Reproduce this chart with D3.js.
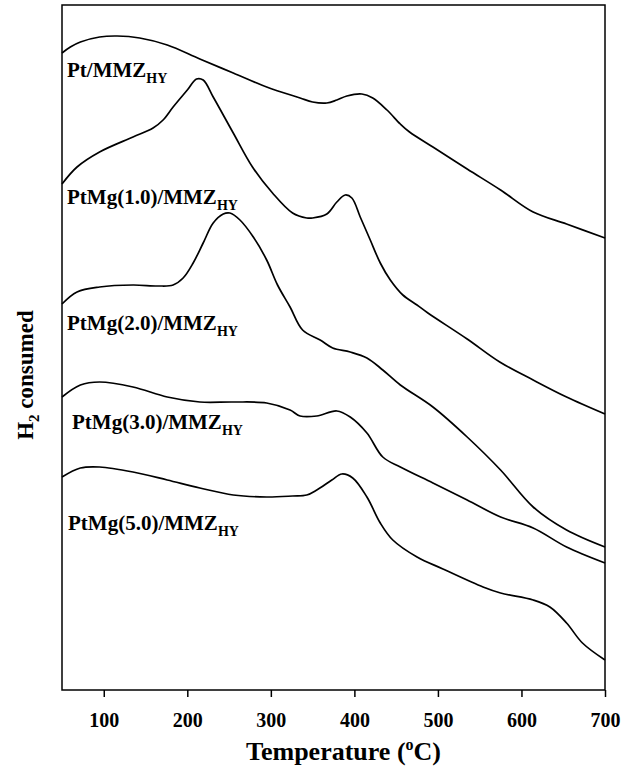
<!DOCTYPE html>
<html>
<head>
<meta charset="utf-8">
<script src="https://cdn.jsdelivr.net/npm/d3@7"></script>
<style>
  body { margin: 0; background: #fff; }
  text { font-family: "Liberation Serif", "Times New Roman", serif; font-weight: bold; fill: #000; }
</style>
</head>
<body>
<svg id="mainSvg" width="634" height="767"></svg>
<script>
// temperature ticks (oC)
let tempTicks = [100, 200, 300, 400, 500, 600, 700]

// H2 consumption signal (arbitrary units), [temperature, signal]
let ptMMZ = [[50,637],[60,643],[72,648],[95,653],[116,654],[143,652],[176,645],[215,631],[255,617],[295,603],[335,592],[350,588],[367,587],[379,590],[391,594],[409,596],[422,592],[439,580],[455,566],[466,558],[494,543],[535,521],[575,500],[614,478],[654,466],[700,452]]
let ptMg10 = [[50,506],[68,523],[95,538],[135,553],[159,562],[171,570],[183,583],[200,600],[211,611],[219,610],[231,593],[255,557],[278,523],[302,497],[326,477],[343,472],[350,472],[367,476],[379,488],[389,495],[397,492],[407,473],[419,450],[431,427],[443,410],[458,395],[475,385],[488,377],[535,351],[574,328],[614,310],[654,293],[700,276]]
let ptMg20 = [[50,386],[68,398],[95,403],[135,405],[165,404],[183,405],[195,412],[207,427],[219,447],[231,467],[243,476],[251,477],[263,470],[279,453],[295,430],[308,405],[323,383],[338,360],[359,350],[374,342],[395,338],[415,332],[434,320],[455,305],[494,283],[535,253],[575,220],[614,183],[654,160],[700,143]]
let ptMg30 = [[50,293],[72,305],[95,308],[135,303],[176,293],[215,288],[255,288],[295,287],[323,280],[335,274],[355,274],[379,279],[395,273],[415,257],[434,233],[455,223],[494,207],[535,190],[575,173],[614,162],[654,143],[700,127]]
let ptMg50 = [[50,213],[72,222],[95,223],[135,218],[176,210],[215,202],[255,195],[295,193],[326,194],[343,195],[355,200],[373,210],[385,216],[398,212],[415,193],[431,167],[446,150],[475,133],[506,121],[554,103],[575,97],[614,90],[634,83],[654,67],[673,47],[700,30]]

let seriesList = [ptMMZ, ptMg10, ptMg20, ptMg30, ptMg50]
let seriesNames = ['Pt/MMZ', 'PtMg(1.0)/MMZ', 'PtMg(2.0)/MMZ', 'PtMg(3.0)/MMZ', 'PtMg(5.0)/MMZ']

let svg = d3.select('#mainSvg')
let plotLeft = 62, plotRight = 605, plotTop = 5, plotBottom = 690

let x = d3.scaleLinear().domain([50, 700]).range([plotLeft, plotRight])
let y = d3.scaleLinear().domain([0, 685]).range([plotBottom, plotTop])

// curves
let line = d3.line()
  .x(d => x(d[0]))
  .y(d => y(d[1]))
  .curve(d3.curveCatmullRom.alpha(0.5))

svg.append('g').selectAll('path')
  .data(seriesList)
  .join('path')
  .attr('d', line)
  .attr('fill', 'none')
  .attr('stroke', '#000')
  .attr('stroke-width', 1.7)

// frame
svg.append('rect')
  .attr('x', plotLeft).attr('y', plotTop)
  .attr('width', plotRight - plotLeft).attr('height', plotBottom - plotTop)
  .attr('fill', 'none').attr('stroke', '#000').attr('stroke-width', 1.5)

// x axis
let xAxis = svg.append('g')
  .attr('transform', `translate(0,${plotBottom})`)
  .call(d3.axisBottom(x).tickValues(tempTicks).tickSize(7).tickSizeOuter(0).tickPadding(16))
xAxis.select('.domain').remove()
xAxis.selectAll('line').attr('stroke-width', 1.5)
xAxis.selectAll('text')
  .style('font-family', '"Liberation Serif", serif')
  .style('font-weight', 'bold')
  .style('font-size', '20px')

// series labels
let labelX = [67, 67, 67, 72, 68]
let labelY = [77, 204, 330, 429, 530]
let labels = svg.append('g').selectAll('text')
  .data(seriesNames)
  .join('text')
  .attr('x', (d, i) => labelX[i])
  .attr('y', (d, i) => labelY[i])
  .style('font-size', '21px')
labels.append('tspan').text(d => d)
labels.append('tspan').attr('dy', 6).style('font-size', '14px').text('HY')

// axis titles
let xt = svg.append('text')
  .attr('x', (plotLeft + plotRight) / 2 + 10)
  .attr('y', 760)
  .attr('text-anchor', 'middle')
  .style('font-size', '26px')
xt.append('tspan').text('Temperature (')
xt.append('tspan').attr('dy', -10).style('font-size', '16px').text('o')
xt.append('tspan').attr('dy', 10).text('C)')

let yt = svg.append('text')
  .attr('transform', 'translate(33,375) rotate(-90)')
  .attr('text-anchor', 'middle')
  .style('font-size', '23px')
yt.append('tspan').text('H')
yt.append('tspan').attr('dy', 6).style('font-size', '15px').text('2')
yt.append('tspan').attr('dy', -6).text(' consumed')
</script>
</body>
</html>
